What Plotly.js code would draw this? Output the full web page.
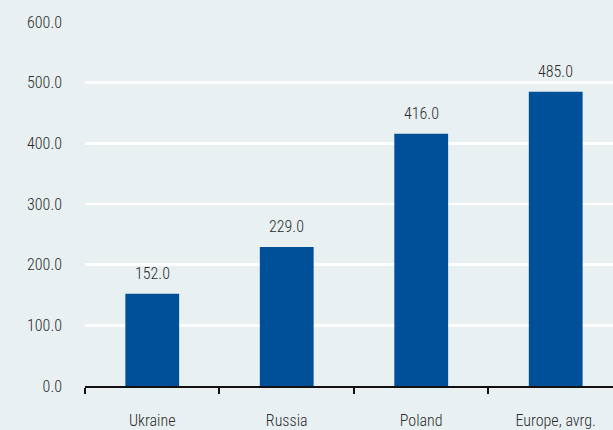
<!DOCTYPE html>
<html><head><meta charset="utf-8">
<script src="https://cdn.plot.ly/plotly-3.0.1.min.js"></script>
<style>html,body{margin:0;padding:0;background:#e8f0f2;}</style>
</head><body>
<div id="chart" style="width:613px;height:430px;"></div>
<script>
const categories = ["Ukraine", "Russia", "Poland", "Europe, avrg."];
const values = [152.0, 229.0, 416.0, 485.0];
const labels = values.map(v => v.toFixed(1));
const yTicks = [0, 100, 200, 300, 400, 500, 600];
const yTickText = yTicks.map(v => v.toFixed(1));

const fontFam = "'Roboto Condensed', 'DejaVu Sans Condensed'";
const fnt = {family: fontFam, size: 16, color: '#2b2b2b', weight: 300};
const annotations = categories.map((c, i) => ({
  x: c, y: values[i], text: labels[i], showarrow: false,
  xanchor: 'center', yanchor: 'bottom', yshift: 9,
  font: fnt
}));
Plotly.newPlot('chart', [{
  type: 'bar', x: categories, y: values, width: 0.4,
  marker: {color: '#004f99'},
  hoverinfo: 'none'
}], {
  width: 613, height: 430,
  margin: {l: 85, r: 0, t: 22, b: 44},
  paper_bgcolor: '#e8f0f2', plot_bgcolor: '#e8f0f2',
  font: fnt,
  showlegend: false,
  annotations: annotations,
  xaxis: {
    type: 'category', range: [-0.5, 3.426], tickson: 'boundaries',
    ticks: 'outside', ticklen: 6, tickwidth: 2, tickcolor: '#111',
    showline: true, linecolor: '#111', linewidth: 2,
    showgrid: false, zeroline: false, ticklabelstandoff: 19,
    tickfont: fnt
  },
  yaxis: {
    range: [0, 600], tickvals: yTicks, ticktext: yTickText,
    showgrid: true, gridcolor: '#ffffff', gridwidth: 2.5,
    zeroline: false, showline: false, ticks: '', ticklabelstandoff: 22,
    tickfont: fnt
  },
  bargap: 0.6
}, {staticPlot: true});
</script>
</body></html>
